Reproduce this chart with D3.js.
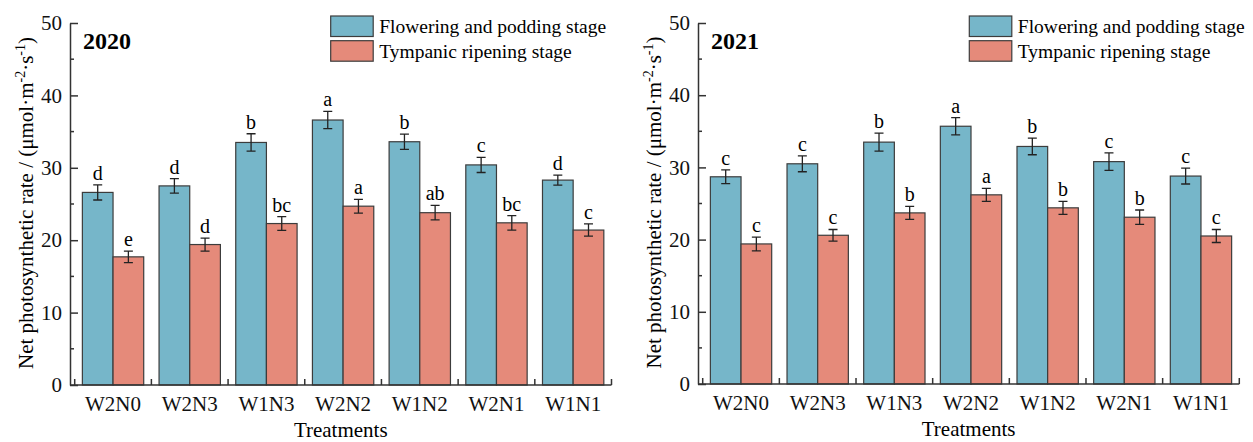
<!DOCTYPE html>
<html>
<head>
<meta charset="utf-8">
<script src="https://cdn.jsdelivr.net/npm/d3@7"></script>
<style>
    body { margin: 0; background: #fff; }
    svg { display: block; font-family: "Liberation Serif", "Times New Roman", serif; }
</style>
</head>
<body>
<svg id="chart" width="1253" height="442"></svg>
<script>
const treatments = ['W2N0', 'W2N3', 'W1N3', 'W2N2', 'W1N2', 'W2N1', 'W1N1'];
const stages = ['Flowering and podding stage', 'Tympanic ripening stage'];
const yTicks = [0, 10, 20, 30, 40, 50];

const flowering2020 = [26.6, 27.5, 33.5, 36.6, 33.6, 30.4, 28.3];
const floweringErr2020 = [1.05, 1.0, 1.2, 1.2, 1.05, 1.05, 0.7];
const floweringLetters2020 = ['d', 'd', 'b', 'a', 'b', 'c', 'd'];
const ripening2020 = [17.7, 19.4, 22.3, 24.7, 23.8, 22.4, 21.4];
const ripeningErr2020 = [0.8, 0.9, 0.95, 0.95, 1.0, 1.0, 0.85];
const ripeningLetters2020 = ['e', 'd', 'bc', 'a', 'ab', 'bc', 'c'];

const flowering2021 = [28.7, 30.5, 33.5, 35.7, 32.9, 30.8, 28.8];
const floweringErr2021 = [0.95, 1.1, 1.25, 1.2, 1.15, 1.2, 1.1];
const floweringLetters2021 = ['c', 'c', 'b', 'a', 'b', 'c', 'c'];
const ripening2021 = [19.4, 20.6, 23.7, 26.2, 24.4, 23.1, 20.5];
const ripeningErr2021 = [0.95, 0.8, 0.9, 0.9, 0.9, 1.0, 0.9];
const ripeningLetters2021 = ['c', 'c', 'b', 'a', 'b', 'b', 'c'];

const colors = ['#76b6c9', '#e58a7a'];
const serif = '"Liberation Serif", "Times New Roman", serif';
const svg = d3.select('#chart');

function drawPanel(opts) {
    const {year, axisX, xStart, xEnd, yTop, yBottom, legendX, series} = opts;
    const g = svg.append('g');

    const x = d3.scaleBand()
        .domain(treatments)
        .range([xStart, xEnd])
        .paddingInner(0.2)
        .paddingOuter(0.1);
    const xSub = d3.scaleBand().domain(stages).range([0, x.bandwidth()]);
    const y = d3.scaleLinear().domain([0, 50]).range([yBottom, yTop]);

    // bars, error bars and letters
    const rows = [];
    treatments.forEach((t, i) => {
        series.forEach((s, j) => {
            rows.push({t, stage: stages[j], v: s.values[i], e: s.errs[i], letter: s.letters[i], c: colors[j]});
        });
    });

    g.append('g')
      .selectAll('rect')
      .data(rows)
      .join('rect')
        .attr('x', (d) => x(d.t) + xSub(d.stage))
        .attr('y', (d) => y(d.v))
        .attr('width', xSub.bandwidth())
        .attr('height', (d) => y(0) - y(d.v))
        .attr('fill', (d) => d.c)
        .attr('stroke', '#3c3c3c')
        .attr('stroke-width', 1.2);

    g.append('g')
        .attr('stroke', '#222')
        .attr('stroke-width', 1.3)
      .selectAll('path')
      .data(rows)
      .join('path')
        .attr('fill', 'none')
        .attr('d', (d) => {
            const cx = x(d.t) + xSub(d.stage) + xSub.bandwidth() / 2;
            const top = y(d.v + d.e);
            const bot = y(d.v - d.e);
            return `M${cx - 4.5},${top}H${cx + 4.5}M${cx},${top}V${bot}M${cx - 4.5},${bot}H${cx + 4.5}`;
        });

    g.append('g')
      .selectAll('text')
      .data(rows)
      .join('text')
        .attr('x', (d) => x(d.t) + xSub(d.stage) + xSub.bandwidth() / 2)
        .attr('y', (d) => y(d.v + d.e) - 5)
        .attr('text-anchor', 'middle')
        .attr('font-size', 20)
        .text((d) => d.letter);

    // y axis: major ticks inside, minor ticks between
    const yAxis = g.append('g')
        .attr('transform', `translate(${axisX},0)`)
        .call(d3.axisLeft(y).tickValues(yTicks).tickSize(-8).tickSizeOuter(0).tickPadding(8))
        .attr('font-family', serif);
    yAxis.selectAll('text').attr('font-size', 21).attr('fill', '#111');
    yAxis.selectAll('line, path').attr('stroke', '#333').attr('stroke-width', 1.5);
    yAxis.selectAll('.minor')
      .data(d3.range(5, 50, 10))
      .join('line')
        .attr('x1', 0)
        .attr('x2', 4)
        .attr('y1', (d) => y(d))
        .attr('y2', (d) => y(d))
        .attr('stroke', '#333')
        .attr('stroke-width', 1.5);

    // x axis: baseline, boundary ticks pointing up, centred labels
    const xAxis = g.append('g');
    xAxis.append('line')
        .attr('x1', axisX)
        .attr('x2', xEnd)
        .attr('y1', yBottom)
        .attr('y2', yBottom)
        .attr('stroke', '#333')
        .attr('stroke-width', 1.5);
    xAxis.selectAll('.tick-b')
      .data(d3.range(treatments.length + 1))
      .join('line')
        .attr('x1', (i) => xStart + i * x.step())
        .attr('x2', (i) => xStart + i * x.step())
        .attr('y1', yBottom)
        .attr('y2', yBottom - 6)
        .attr('stroke', '#333')
        .attr('stroke-width', 1.5);

    const xLabels = g.append('g')
        .attr('transform', `translate(0,${yBottom})`)
        .call(d3.axisBottom(x).tickSize(0).tickPadding(11))
        .attr('font-family', serif);
    xLabels.select('.domain').remove();
    xLabels.selectAll('text').attr('font-size', 21).attr('fill', '#111');

    g.append('text')
        .attr('x', (axisX + xEnd) / 2)
        .attr('y', yBottom + 52)
        .attr('text-anchor', 'middle')
        .attr('font-size', 21)
        .text('Treatments');

    const yTitle = g.append('text')
        .attr('transform', `translate(${axisX - 37},${(yTop + yBottom) / 2 - 1}) rotate(-90)`)
        .attr('text-anchor', 'middle')
        .attr('font-size', 21);
    yTitle.append('tspan').text('Net photosynthetic rate / (μmol·m');
    yTitle.append('tspan').attr('font-size', 14).attr('dy', -8).text('-2');
    yTitle.append('tspan').attr('dy', 8).text('·s');
    yTitle.append('tspan').attr('font-size', 14).attr('dy', -8).text('-1');
    yTitle.append('tspan').attr('dy', 8).text(')');

    g.append('text')
        .attr('x', axisX + 13)
        .attr('y', yTop + 26)
        .attr('font-size', 24)
        .attr('font-weight', 'bold')
        .text(year);

    // legend
    const legend = g.append('g')
      .selectAll('g')
      .data(stages)
      .join('g')
        .attr('transform', (d, i) => `translate(${legendX},${16 + i * 24.7})`);
    legend.append('rect')
        .attr('width', 42.5)
        .attr('height', 20.5)
        .attr('fill', (d, i) => colors[i])
        .attr('stroke', '#3c3c3c')
        .attr('stroke-width', 1.2);
    legend.append('text')
        .attr('x', 48.5)
        .attr('y', 17)
        .attr('font-size', 19.5)
        .text((d) => d);
}

drawPanel({
    year: '2020', axisX: 70, xStart: 74.7, xEnd: 611.5, yTop: 23, yBottom: 385, legendX: 330.7,
    series: [
        {values: flowering2020, errs: floweringErr2020, letters: floweringLetters2020},
        {values: ripening2020, errs: ripeningErr2020, letters: ripeningLetters2020}
    ]
});

drawPanel({
    year: '2021', axisX: 698, xStart: 702.7, xEnd: 1239.3, yTop: 23, yBottom: 384, legendX: 969.3,
    series: [
        {values: flowering2021, errs: floweringErr2021, letters: floweringLetters2021},
        {values: ripening2021, errs: ripeningErr2021, letters: ripeningLetters2021}
    ]
});
</script>
</body>
</html>
